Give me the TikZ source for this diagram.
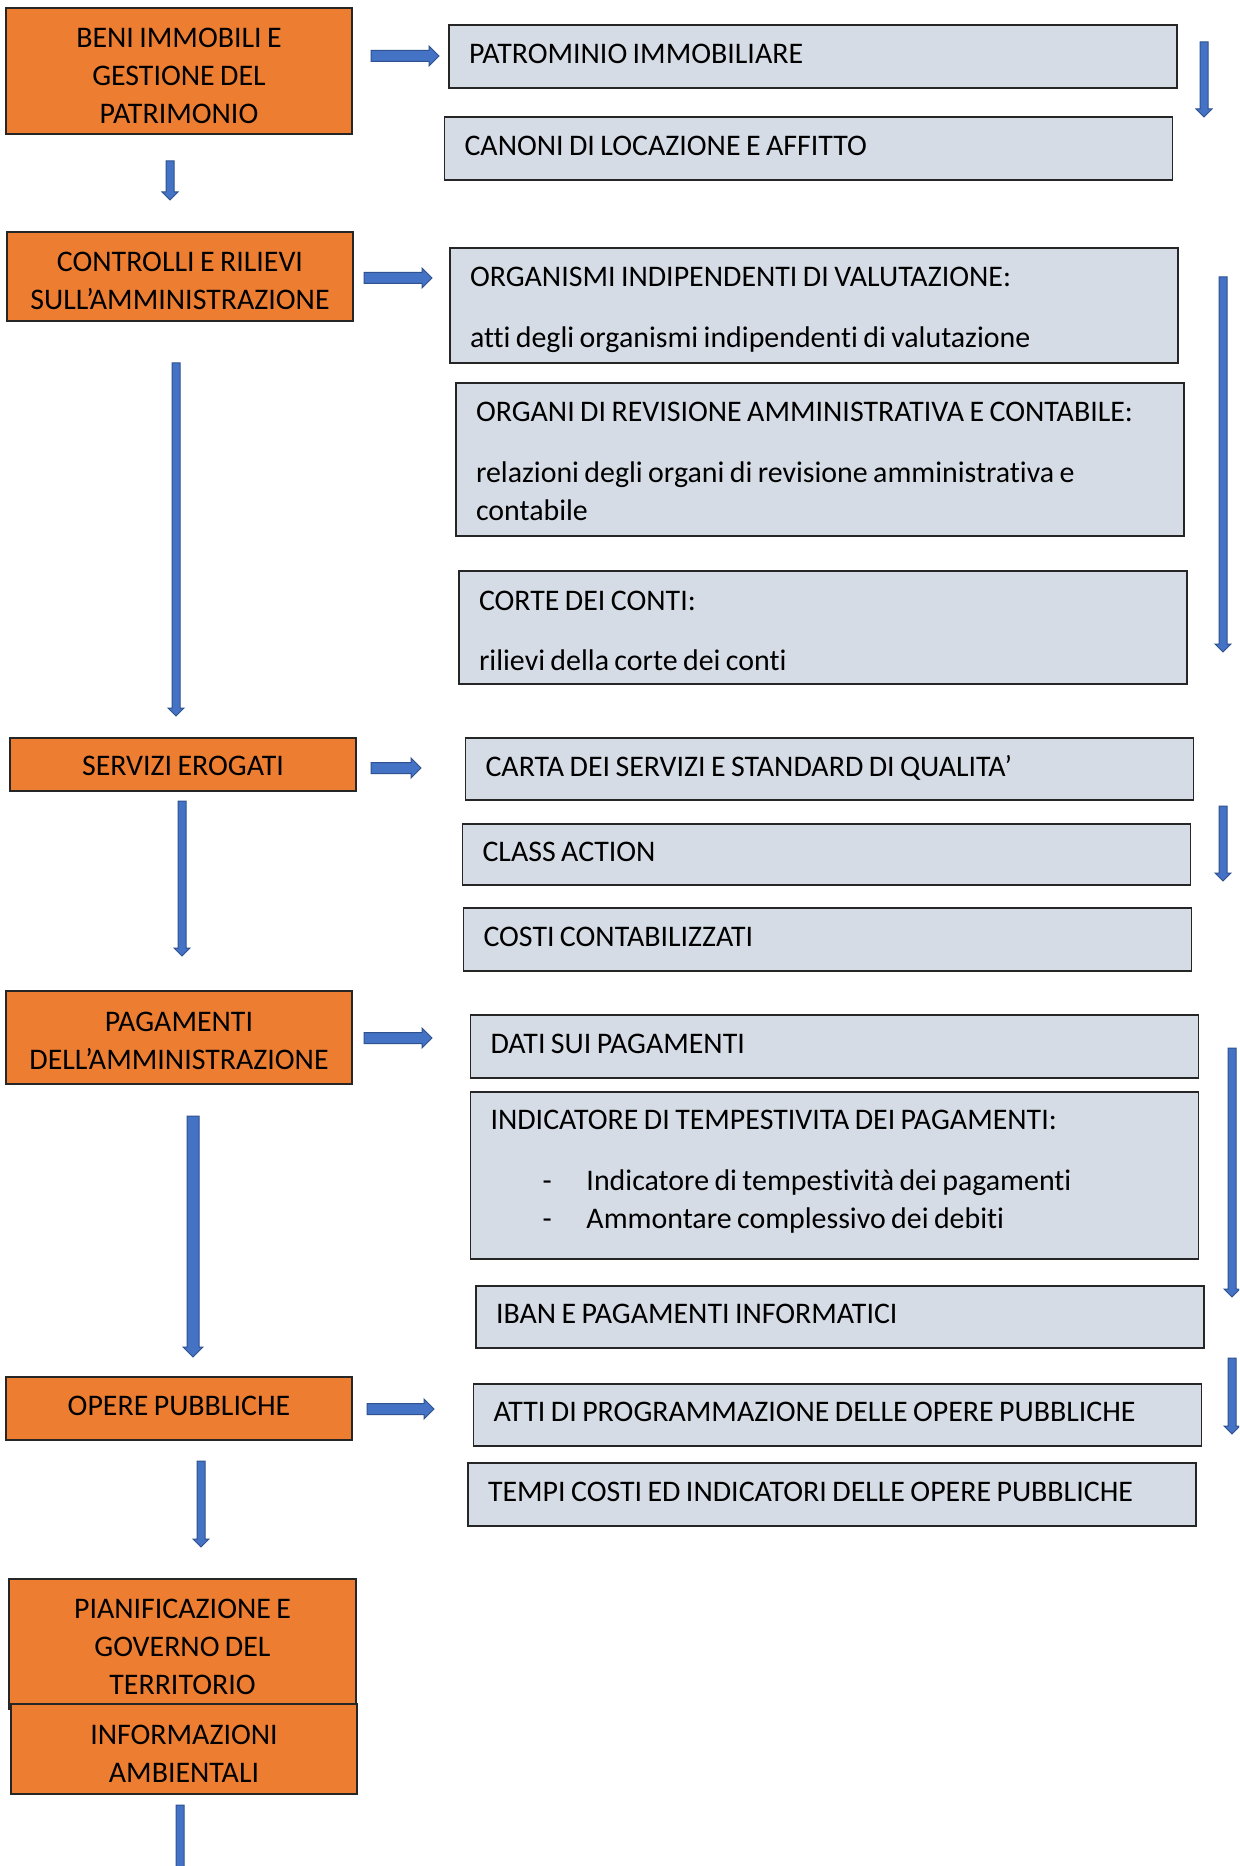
\documentclass[tikz,border=0pt]{standalone}
\usepackage{fontspec}
\setmainfont{Carlito}[Ligatures=NoCommon, WordSpace=0.8]
\usetikzlibrary{calc}

\definecolor{boxorange}{HTML}{ED7D31}
\definecolor{boxgrey}{HTML}{D6DCE5}
\definecolor{arrowfill}{HTML}{4472C4}
\definecolor{arrowedge}{HTML}{2F528F}
\definecolor{edgegrey}{HTML}{262626}

\newcommand\bashaft{2pt}
\newcommand\bahead{4pt}
\newcommand\balen{4pt}
\newcommand\strutht{0pt}
\newcommand\strutdp{0pt}
\newcommand\boxfont{\fontsize{14.95pt}{19pt}\selectfont}

\tikzset{
  ashaft/.code={\renewcommand\bashaft{#1}},
  ahead/.code={\renewcommand\bahead{#1}},
  alen/.code={\renewcommand\balen{#1}},
  % struts that set the height of the first line and the depth of the last one
  sh/.code={\renewcommand\strutht{#1}},
  sd/.code={\renewcommand\strutdp{#1}},
  boxtext/.style={execute at begin node={\rule{0pt}{\strutht}},
                  execute at end node={\rule[-\strutdp]{0pt}{0pt}}},
  blockarrow/.style={fill=arrowfill, draw=arrowedge, line width=0.5pt, line join=miter},
  % block arrow pointing down, from start to tip
  downarrow/.style={blockarrow,
    to path={let \p1=(\tikztostart), \p2=(\tikztotarget) in
      (\x1-\bashaft,\y1) -- (\x1+\bashaft,\y1) -- (\x1+\bashaft,\y2+\balen)
      -- (\x1+\bahead,\y2+\balen) -- (\x1,\y2) -- (\x1-\bahead,\y2+\balen)
      -- (\x1-\bashaft,\y2+\balen) -- cycle}},
  % block arrow pointing right, from start to tip
  rightarrow/.style={blockarrow, ashaft=2.75pt, ahead=5pt, alen=5pt,
    to path={let \p1=(\tikztostart), \p2=(\tikztotarget) in
      (\x1,\y1-\bashaft) -- (\x2-\balen,\y1-\bashaft) -- (\x2-\balen,\y1-\bahead)
      -- (\x2,\y1) -- (\x2-\balen,\y1+\bahead) -- (\x2-\balen,\y1+\bashaft)
      -- (\x1,\y1+\bashaft) -- cycle}},
  obox/.style={draw=edgegrey, fill=boxorange, line width=0.6pt, minimum width=173pt,
    text width=173pt, align=flush center, inner sep=0pt, font=\boxfont, boxtext, sh=13pt, sd=0pt},
  gbox/.style={draw=edgegrey, fill=boxgrey, line width=0.6pt, minimum width=364pt,
    text width=344pt, inner xsep=10pt, inner ysep=0pt, align=flush left, font=\boxfont,
    boxtext, sh=0pt, sd=3pt},
}

\newcommand\dashitem[1]{\makebox[48pt][l]{\hspace*{26pt}-}#1}

\begin{document}
\begin{tikzpicture}[x=0.5pt, y=-0.5pt]
  \clip (0,0) rectangle (1239,1866);
  \fill[white] (0,0) rectangle (1239,1866);

  % main topics
  \node[obox, minimum height=63pt, sh=14.8pt]   (beni)      at (179,71)     {BENI IMMOBILI E\\GESTIONE DEL\\PATRIMONIO};
  \node[obox, minimum height=44.5pt, sh=14.2pt] (controlli) at (180,276.5)  {CONTROLLI E RILIEVI\\SULL’AMMINISTRAZIONE};
  \node[obox, minimum height=26.5pt, sh=11.3pt] (servizi)   at (183,764.5)  {SERVIZI EROGATI};
  \node[obox, minimum height=46.5pt, sh=13pt]   (pagamenti) at (179,1037.5) {PAGAMENTI\\DELL’AMMINISTRAZIONE};
  \node[obox, minimum height=31.5pt, sh=0pt, sd=2.9pt] (opere) at (179,1408.5) {OPERE PUBBLICHE};
  \node[obox, minimum height=65pt, minimum width=173.5pt, sh=13pt] (pianif) at (182.5,1644) {PIANIFICAZIONE E\\GOVERNO DEL\\TERRITORIO};
  \node[obox, minimum height=45pt, sh=14.2pt]   (ambiente)  at (184,1749)   {INFORMAZIONI\\AMBIENTALI};

  % sub-topics
  \node[gbox, minimum height=31.5pt] (patr)    at (813,56.5)    {PATROMINIO IMMOBILIARE};
  \node[gbox, minimum height=31.5pt] (canoni)  at (808.5,148.5) {CANONI DI LOCAZIONE E AFFITTO};
  \node[gbox, minimum height=57.5pt, sh=14.2pt, sd=0pt] (oiv) at (814,305.5) {ORGANISMI INDIPENDENTI DI VALUTAZIONE:\\[11.3pt]atti degli organismi indipendenti di valutazione};
  \node[gbox, minimum height=76.5pt, sh=11.8pt, sd=0pt] (revis) at (820,459.5) {ORGANI DI REVISIONE AMMINISTRATIVA E CONTABILE:\\[11.3pt]relazioni degli organi di revisione amministrativa e\\contabile};
  \node[gbox, minimum height=56.5pt, sh=13pt, sd=0pt] (corte) at (823,627.5) {CORTE DEI CONTI:\\[11.3pt]rilievi della corte dei conti};
  \node[gbox, minimum height=31pt]   (carta)   at (829.5,769)   {CARTA DEI SERVIZI E STANDARD DI QUALITA’};
  \node[gbox, minimum height=30.5pt] (class)   at (826.5,854.5) {CLASS ACTION};
  \node[gbox, minimum height=31.5pt] (costi)   at (827.5,939.5) {COSTI CONTABILIZZATI};
  \node[gbox, minimum height=31.5pt] (dati)    at (834.5,1046.5) {DATI SUI PAGAMENTI};
  \node[gbox, minimum height=83.5pt, sh=0pt, sd=6.3pt] (itp) at (834.5,1175.5) {INDICATORE DI TEMPESTIVITA DEI PAGAMENTI:\\[11.3pt]\dashitem{Indicatore di tempestività dei pagamenti}\\\dashitem{Ammontare complessivo dei debiti}};
  \node[gbox, minimum height=31pt]   (iban)    at (840,1317)    {IBAN E PAGAMENTI INFORMATICI};
  \node[gbox, minimum height=31pt]   (progr)   at (837.5,1415)  {ATTI DI PROGRAMMAZIONE DELLE OPERE PUBBLICHE};
  \node[gbox, minimum height=31.5pt] (tempi)   at (832,1494.5)  {TEMPI COSTI ED INDICATORI DELLE OPERE PUBBLICHE};

  % arrow end points
  \coordinate (r1s) at (371,56);   \coordinate (r1e) at (439,56);
  \coordinate (r2s) at (364,278);  \coordinate (r2e) at (432,278);
  \coordinate (r3s) at (371,768);  \coordinate (r3e) at (421,768);
  \coordinate (r4s) at (364,1038); \coordinate (r4e) at (432,1038);
  \coordinate (r5s) at (367,1409); \coordinate (r5e) at (434,1409);

  \coordinate (d1s) at (170,161);  \coordinate (d1e) at (170,200);
  \coordinate (d2s) at (176,363);  \coordinate (d2e) at (176,716);
  \coordinate (d3s) at (182,801);  \coordinate (d3e) at (182,956);
  \coordinate (d4s) at (193,1116); \coordinate (d4e) at (193,1357);
  \coordinate (d5s) at (201,1461); \coordinate (d5e) at (201,1547);
  \coordinate (d6s) at (180,1805); \coordinate (d6e) at (180,1876);

  \coordinate (v1s) at (1204,42);   \coordinate (v1e) at (1204,117);
  \coordinate (v2s) at (1223,277);  \coordinate (v2e) at (1223,652);
  \coordinate (v3s) at (1223,806);  \coordinate (v3e) at (1223,881);
  \coordinate (v4s) at (1232,1048); \coordinate (v4e) at (1232,1297);
  \coordinate (v5s) at (1232,1358); \coordinate (v5e) at (1232,1434);

  % arrows from topics to their sub-topics
  \path[rightarrow] (r1s) to (r1e);
  \path[rightarrow] (r2s) to (r2e);
  \path[rightarrow] (r3s) to (r3e);
  \path[rightarrow] (r4s) to (r4e);
  \path[rightarrow] (r5s) to (r5e);

  % arrows down the list of topics
  \path[downarrow] (d1s) to (d1e);
  \path[downarrow] (d2s) to (d2e);
  \path[downarrow] (d3s) to (d3e);
  \path[downarrow, ashaft=3pt, ahead=5pt, alen=5pt] (d4s) to (d4e);
  \path[downarrow] (d5s) to (d5e);
  \path[downarrow] (d6s) to (d6e);

  % arrows down each group of sub-topics
  \path[downarrow] (v1s) to (v1e);
  \path[downarrow] (v2s) to (v2e);
  \path[downarrow] (v3s) to (v3e);
  \path[downarrow] (v4s) to (v4e);
  \path[downarrow] (v5s) to (v5e);
\end{tikzpicture}
\end{document}
